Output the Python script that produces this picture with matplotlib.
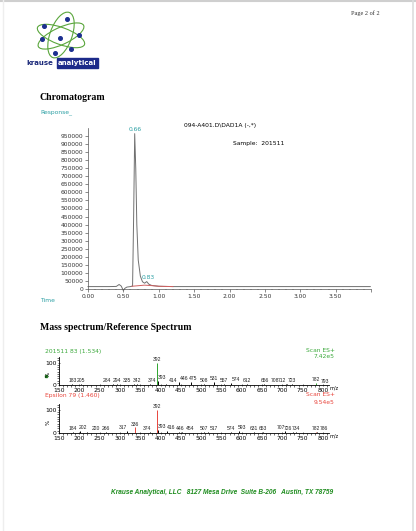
import numpy as np
import matplotlib
matplotlib.use("Agg")
import matplotlib.pyplot as plt
from matplotlib.patches import Ellipse, Rectangle
from matplotlib.ticker import MultipleLocator

W, H = 416, 531

# chromatogram trace (time in min, response)
chrom_time = [0.00, 0.30, 0.40, 0.44, 0.47, 0.50, 0.52, 0.55, 0.60, 0.63, 0.645,
              0.66, 0.675, 0.69, 0.71, 0.74, 0.77, 0.80, 0.83, 0.86, 0.90, 1.00,
              1.20, 2.00, 3.00, 3.99]
chrom_resp = [15000, 15000, 16000, 28000, 18000, -10000, 4000, 12000, 15000,
              18000, 450000, 965000, 750000, 400000, 180000, 80000, 45000, 36000,
              46000, 30000, 22000, 17000, 15000, 15000, 15000, 15000]
base_time = [0.62, 0.70, 0.80, 0.90, 1.00, 1.20]
base_resp = [17000, 20000, 24000, 21000, 17000, 15000]
peak_labels = ["0.66", "0.83"]
peak_times = [0.66, 0.83]
peak_resp = [965000, 46000]

# mass spectra
mz1 = [183, 205, 284, 294, 335, 342, 374, 392, 393, 414, 446, 475, 508, 531,
       557, 574, 612, 656, 708, 712, 723, 782, 793]
int1 = [3, 3, 3, 3, 3, 3, 3, 100, 18, 4, 14, 12, 6, 12, 5, 10, 3, 3, 3, 3, 3, 9, 2]
mz2 = [184, 202, 220, 266, 317, 336, 374, 392, 393, 416, 446, 454, 507, 517,
       574, 593, 631, 653, 707, 726, 734, 782, 786]
int2 = [3, 8, 3, 3, 8, 24, 3, 100, 14, 7, 3, 3, 3, 3, 3, 8, 3, 3, 8, 3, 3, 4, 3]

# label shifts (m/z units) where the instrument moved the label sideways
nudge1 = {284: -17, 335: -18, 374: 6, 393: 10, 414: 18, 446: 11, 475: 6,
          574: 11, 708: -25, 712: -12, 793: 12}
nudge2 = {202: 8, 220: 20, 317: -9, 374: -7, 393: 10, 416: 9, 446: 3,
          454: 19, 517: 15, 593: 8, 707: -10, 726: -12, 786: 17}

teal = "#2a9fa3"
green = "#3aa83a"
red = "#e8453c"
sans = "DejaVu Sans"


def box(l, t, r, b):
    return [l / W, 1 - b / H, (r - l) / W, (b - t) / H]


fig = plt.figure(figsize=(W / 100, H / 100), dpi=100)

# page layer in pixel coordinates
page = fig.add_axes([0, 0, 1, 1])
page.set_xlim(0, W)
page.set_ylim(H, 0)
page.axis("off")
page.plot([0, W], [1, 1], color="#cfcfcf", lw=1.5)
page.plot([413, 413], [0, H], color="#dddddd", lw=1.2)
page.plot([3, 3], [0, H], color="#eeeeee", lw=1.0)

# logo
ell_kw = dict(fill=False, ec="#5aa63c", lw=0.8)
page.add_patch(Ellipse((61, 35), 22, 48, angle=20, **ell_kw))
page.add_patch(Ellipse((61, 36), 50, 17, angle=20, **ell_kw))
page.add_patch(Ellipse((61, 36), 50, 17, angle=-25, **ell_kw))
dots = [(67, 19), (44, 26), (79, 35), (42, 39), (60, 38), (55, 53), (71, 49)]
for dx, dy in dots:
    page.plot(dx, dy, "o", ms=2.6, color="#1c2f8f")
page.text(26, 63, "krause", fontsize=5.0, color="#1c2a7a", fontweight="bold",
          va="center", family=sans)
page.add_patch(Rectangle((57, 58), 41, 10, color="#1c2a8a"))
page.text(58, 63, "analytical", fontsize=5.0, color="white", fontweight="bold",
          va="center", family=sans)

page.text(380, 13, "Page 2 of 2", fontsize=4.5, family="Liberation Serif",
          ha="right", va="center", color="#333333")
page.text(40, 98, "Chromatogram", fontsize=7, family="Liberation Serif",
          fontweight="bold", va="center")
page.text(40, 112, "Response_", fontsize=4.3, family=sans, color=teal, va="center")
page.text(184, 126, "094-A401.D\\DAD1A (-,*)", fontsize=4.3, family=sans, va="center")
page.text(233, 143, "Sample:  201511", fontsize=4.3, family=sans, va="center")
page.text(40, 301, "Time", fontsize=4.3, family=sans, color=teal, va="center")
page.text(40, 327, "Mass spectrum/Reference Spectrum", fontsize=7,
          family="Liberation Serif", fontweight="bold", va="center")

page.text(45, 351, "201511 83 (1.534)", fontsize=4.3, color=green, va="center")
page.text(335, 350, "Scan ES+", fontsize=4.3, color=green, va="center", ha="right")
page.text(335, 357, "7.42e5", fontsize=4.3, color=green, va="center", ha="right")
page.plot(46, 376, "s", ms=2, color="#2a8a2a")
page.text(45, 396, "Epsilon 79 (1.460)", fontsize=4.3, color=red, va="center")
page.text(335, 395, "Scan ES+", fontsize=4.3, color=red, va="center", ha="right")
page.text(335, 402, "9.54e5", fontsize=4.3, color=red, va="center", ha="right")

page.text(222, 492, "Krause Analytical, LLC   8127 Mesa Drive  Suite B-206   Austin, TX 78759",
          fontsize=4.7, color="#1e8c1e", fontweight="bold", style="italic",
          family="Liberation Sans", ha="center", va="center")

# chromatogram
ax = fig.add_axes(box(88, 128, 371, 289))
ax.patch.set_alpha(0)
ax.plot(chrom_time, chrom_resp, color="#707070", lw=0.7, clip_on=False)
ax.plot(base_time, base_resp, color="#d06060", lw=0.7)
for lab, t, r in zip(peak_labels, peak_times, peak_resp):
    ax.text(t + 0.02 if lab != "0.66" else t, r + 12000, lab, fontsize=4.3,
            color=teal, ha="center", va="bottom", family=sans)
ax.set_xlim(0, 4.0)
ax.set_ylim(0, 1000000)
ax.set_yticks(np.arange(0, 950001, 50000))
ax.set_yticklabels([str(v) for v in range(0, 950001, 50000)])
ax.xaxis.set_major_locator(MultipleLocator(0.5))
ax.xaxis.set_minor_locator(MultipleLocator(0.1))
ax.xaxis.set_major_formatter(lambda v, p: f"{v:.2f}" if v < 3.9 else "")
for s in ["top", "right"]:
    ax.spines[s].set_visible(False)
for s in ["left", "bottom"]:
    ax.spines[s].set_linewidth(0.5)
    ax.spines[s].set_color("#555555")
ax.tick_params(axis="both", labelsize=4.3, width=0.4, length=2, pad=1.5,
               colors="#333333")
ax.tick_params(axis="x", which="minor", length=1, width=0.3)


def spectrum(t, b, mz, inten, colored, col, nudge):
    a = fig.add_axes(box(59, t, 329, b))
    a.patch.set_alpha(0)
    cols = [col if m in colored else "black" for m in mz]
    a.vlines(mz, 0, inten, colors=cols, lw=0.7)
    for m, v in zip(mz, inten):
        a.text(m + nudge.get(m, 0), min(v, 100) + 4, str(m), fontsize=3.6,
               ha="center", va="bottom", family="Liberation Sans",
               color="#222222")
    a.set_xlim(150, 815)
    a.set_ylim(0, 125)
    a.set_xticks(range(150, 801, 50))
    a.xaxis.set_minor_locator(MultipleLocator(10))
    a.set_yticks([0, 100])
    a.yaxis.set_minor_locator(MultipleLocator(10))
    for s in ["top", "right"]:
        a.spines[s].set_visible(False)
    for s in ["left", "bottom"]:
        a.spines[s].set_linewidth(0.6)
    a.tick_params(axis="both", labelsize=4.3, width=0.4, length=2, pad=1,
                  direction="inout")
    a.tick_params(which="minor", length=1.4, width=0.4)
    a.text(-0.04, 0.38, "%", transform=a.transAxes, fontsize=4, ha="center",
           va="center", rotation=90)
    a.text(1.0, -0.02, "m/z", transform=a.transAxes, fontsize=3.6, ha="left",
           va="top")
    return a


spectrum(357, 385, mz1, int1, {392, 782}, "#2fa52f", nudge1)
spectrum(404, 433, mz2, int2, {392, 336, 782}, red, nudge2)

fig.savefig("out.png", dpi=100)
